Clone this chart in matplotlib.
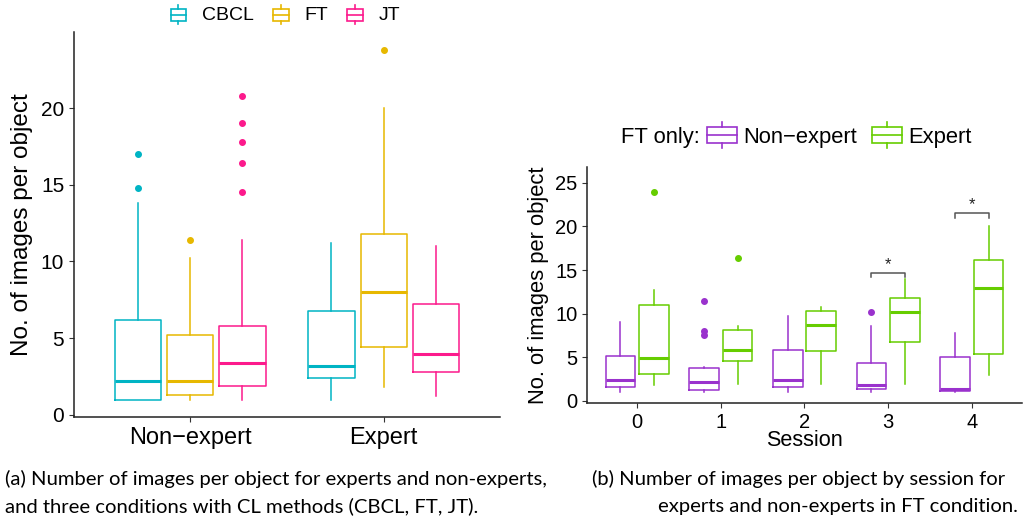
import matplotlib
matplotlib.use('Agg')
import matplotlib.pyplot as plt
from matplotlib.legend_handler import HandlerBase
from matplotlib.patches import Rectangle
from matplotlib.lines import Line2D

plt.rcParams['font.family'] = ['Liberation Sans', 'DejaVu Sans']

# ---- panel (a): images per object by expertise and CL method ----
groups = ['Non\u2212expert', 'Expert']
methods = ['CBCL', 'FT', 'JT']
method_colors = ['#00B4C4', '#E7B800', '#FC1A8C']
# rows: CBCL, FT, JT ; cols: Non-expert, Expert
a_lo = [[1.0, 1.0], [1.0, 1.85], [1.0, 1.2]]
a_q1 = [[1.0, 2.4], [1.32, 4.4], [1.9, 2.8]]
a_med = [[2.2, 3.2], [2.2, 8.0], [3.4, 4.0]]
a_q3 = [[6.2, 6.75], [5.2, 11.8], [5.8, 7.2]]
a_hi = [[13.8, 11.2], [10.2, 20.0], [11.4, 11.0]]
a_out = [[[17.0, 14.8], []],
         [[11.4], [23.8]],
         [[20.8, 19.0, 17.8, 16.4, 14.5], []]]

# ---- panel (b): FT only, by session ----
sessions = [0, 1, 2, 3, 4]
levels = ['Non\u2212expert', 'Expert']
level_colors = ['#9A32CD', '#66CD00']
b_lo = [[1.0, 1.0, 1.0, 1.0, 1.0], [1.8, 2.0, 2.0, 2.0, 3.0]]
b_q1 = [[1.6, 1.3, 1.6, 1.38, 1.15], [3.06, 4.55, 5.74, 6.8, 5.36]]
b_med = [[2.4, 2.2, 2.4, 1.84, 1.42], [4.9, 5.8, 8.65, 10.15, 12.95]]
b_q3 = [[5.2, 3.8, 5.8, 4.4, 5.0], [10.95, 8.1, 10.3, 11.75, 16.1]]
b_hi = [[9.0, 3.9, 9.76, 8.6, 7.8], [12.75, 8.6, 10.8, 14.0, 20.0]]
b_out = [[[], [11.4, 8.0, 7.6], [], [10.2], []],
         [[23.9], [16.4], [], [], []]]
sig_sessions = [3, 4]
sig_heights = [14.7, 21.5]
sig_labels = ['*', '*']

# caption text, anchor x, baseline y, alignment
captions = [
    ('(a) Number of images per object for experts and non-experts,', 5, 485, 'left'),
    ('and three conditions with CL methods (CBCL, FT, JT).', 5, 512, 'left'),
    ('(b) Number of images per object by session for', 592, 485, 'left'),
    ('experts and non-experts in FT condition.', 838, 512, 'center'),
]


class BoxKey(HandlerBase):
    def create_artists(self, legend, orig_handle, x0, y0, width, height, fontsize, trans):
        c = orig_handle.get_color()
        cx = x0 + width / 2
        box = Rectangle((x0, y0), width, height, fill=False, ec=c, lw=1.2, transform=trans)
        mid = Line2D([x0, x0 + width], [y0 + height / 2] * 2, color=c, lw=1.2, transform=trans)
        w1 = Line2D([cx, cx], [y0 - 0.3 * height, y0], color=c, lw=1.2, transform=trans)
        w2 = Line2D([cx, cx], [y0 + height, y0 + 1.3 * height], color=c, lw=1.2, transform=trans)
        return [box, mid, w1, w2]


def draw_boxes(ax, pos, lo, q1, med, q3, hi, out, color, width):
    stats = [{'whislo': lo[i], 'q1': q1[i], 'med': med[i], 'q3': q3[i],
              'whishi': hi[i], 'fliers': out[i]} for i in range(len(pos))]
    ax.bxp(stats, positions=pos, widths=width, showcaps=False, manage_ticks=False,
           boxprops=dict(color=color, lw=1.1),
           whiskerprops=dict(color=color, lw=1.1),
           medianprops=dict(color=color, lw=2.2, solid_capstyle='butt'),
           flierprops=dict(marker='o', markerfacecolor=color, markeredgecolor=color,
                           markersize=4, linestyle='none'))


def style_axes(ax):
    for s in ['top', 'right']:
        ax.spines[s].set_visible(False)
    for s in ['left', 'bottom']:
        ax.spines[s].set_linewidth(1.1)
        ax.spines[s].set_color('#222222')
    ax.tick_params(length=3.5, width=0.8, color='#333333', labelcolor='black')


fig = plt.figure(figsize=(10.23, 5.2), dpi=100)

# panel (a)
ax1 = fig.add_axes([0.0723, 0.198, 0.4164, 0.740])
for k, m in enumerate(methods):
    pos = [g + (k - 1) * 0.27 for g in range(len(groups))]
    draw_boxes(ax1, pos, a_lo[k], a_q1[k], a_med[k], a_q3[k], a_hi[k], a_out[k],
               method_colors[k], 0.24)
ax1.set_xlim(-0.6, 1.6)
ax1.set_ylim(-0.14, 24.94)
ax1.set_xticks(range(len(groups)), groups, fontsize=17)
ax1.set_yticks([0, 5, 10, 15, 20])
ax1.tick_params(axis='y', labelsize=15)
ax1.set_ylabel('No. of images per object', fontsize=17.5, labelpad=6)
style_axes(ax1)
handles = [Line2D([], [], color=c) for c in method_colors]
fig.legend(handles, methods, handler_map={Line2D: BoxKey()}, loc='center',
           bbox_to_anchor=(0.279, 0.971), ncol=3, frameon=False, fontsize=14,
           handlelength=0.8, handleheight=0.55, columnspacing=1.0, handletextpad=0.8,
           borderpad=0)

# panel (b)
ax2 = fig.add_axes([0.5738, 0.225, 0.4252, 0.4538])
for k, lv in enumerate(levels):
    pos = [s + (k - 0.5) * 0.4 for s in sessions]
    draw_boxes(ax2, pos, b_lo[k], b_q1[k], b_med[k], b_q3[k], b_hi[k], b_out[k],
               level_colors[k], 0.355)
for s, h, lab in zip(sig_sessions, sig_heights, sig_labels):
    ax2.plot([s - 0.2, s - 0.2, s + 0.2, s + 0.2], [h - 0.55, h, h, h - 0.55],
             color='#555555', lw=1.1)
    ax2.text(s, h + 0.1, lab, ha='center', va='bottom', fontsize=12, color='#222222')
ax2.set_xlim(-0.6, 4.6)
ax2.set_ylim(-0.23, 26.8)
ax2.set_xticks(sessions, [str(s) for s in sessions])
ax2.set_yticks([0, 5, 10, 15, 20, 25])
ax2.tick_params(labelsize=14.5)
ax2.set_xlabel('Session', fontsize=15.6, labelpad=-1)
ax2.set_ylabel('No. of images per object', fontsize=15.8, labelpad=4)
style_axes(ax2)
fig.text(621 / 1023, 1 - 138 / 520, 'FT only:', fontsize=15.8, ha='left', va='center')
handles = [Line2D([], [], color=c) for c in level_colors]
fig.legend(handles, levels, handler_map={Line2D: BoxKey()}, loc='center left',
           bbox_to_anchor=(707 / 1023, 1 - 138 / 520), ncol=2, frameon=False,
           fontsize=15.8, handlelength=1.35, handleheight=0.75, columnspacing=0.7,
           handletextpad=0.3, borderpad=0, borderaxespad=0)

# captions
for txt, x, y, ha in captions:
    fig.text(x / 1023, 1 - y / 520, txt, fontsize=14.6, family=['Lato', 'DejaVu Sans'],
             ha=ha, va='baseline')

fig.savefig('out.png', dpi=100)
